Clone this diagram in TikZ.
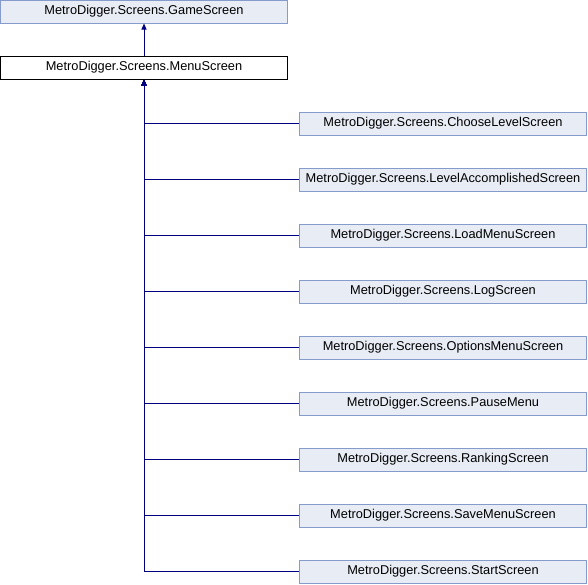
\documentclass[tikz,border=0pt]{standalone}
\usepackage{fontspec}
\setmainfont{Liberation Sans}
\usetikzlibrary{arrows.meta}
\definecolor{clsfill}{RGB}{232,236,245}
\definecolor{clsline}{RGB}{132,155,204}
\definecolor{inhline}{RGB}{0,0,128}
\begin{document}
\begin{tikzpicture}[x=1pt,y=-1pt,
  cls/.style={draw=clsline,fill=clsfill,line width=1pt,minimum width=287pt,minimum height=23pt,inner sep=0pt,font=\fontsize{12.8}{14}\selectfont},
  cur/.style={cls,draw=black,fill=white},
  inh/.style={draw=inhline,line width=1pt,-{Triangle[length=6pt,width=5pt]}}]
\useasboundingbox (0,0) rectangle (588,584);
\def\XL{144};\def\XR{443};
\node[cls] (game) at (\XL,11.5) {MetroDigger.Screens.GameScreen};
\node[cur] (menu) at (\XL,67.5) {MetroDigger.Screens.MenuScreen};
\draw[inh] (menu.north) -- (game.south);
% derived classes
\foreach \n [count=\i] in {ChooseLevelScreen,LevelAccomplishedScreen,LoadMenuScreen,LogScreen,OptionsMenuScreen,PauseMenu,RankingScreen,SaveMenuScreen,StartScreen}{
  \node[cls] (c\i) at (\XR,67.5+56*\i) {MetroDigger.Screens.\n};
  \draw[inh] (c\i.west) -| (menu.south);
}
\end{tikzpicture}
\end{document}
